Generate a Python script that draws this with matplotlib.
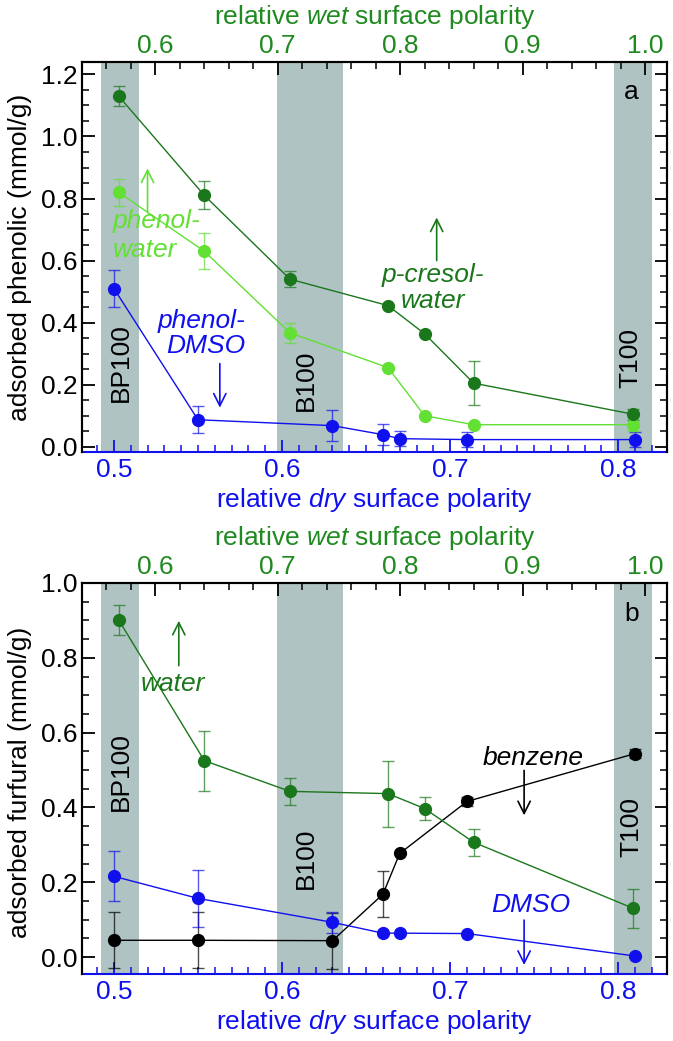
import numpy as np
import matplotlib.pyplot as plt
from matplotlib.ticker import MultipleLocator, FormatStrFormatter
from matplotlib.colors import to_rgba

plt.rcParams['font.family'] = ['Liberation Sans', 'DejaVu Sans']
plt.rcParams['mathtext.fontset'] = 'custom'
plt.rcParams['mathtext.rm'] = 'Liberation Sans'
plt.rcParams['mathtext.it'] = 'Liberation Sans:italic'
plt.rcParams['font.size'] = 19

# sample polarities (same seven sorbents in both panels)
dry_pol = [0.50, 0.55, 0.63, 0.66, 0.67, 0.71, 0.81]
wet_pol = [0.57, 0.64, 0.71, 0.79, 0.82, 0.86, 0.99]

# panel a: phenolics
pcresol_water = [1.13, 0.81, 0.54, 0.455, 0.364, 0.205, 0.105]
pcresol_water_err = [0.033, 0.045, 0.025, 0, 0, 0.07, 0.018]
phenol_water = [0.82, 0.63, 0.367, 0.255, 0.10, 0.071, 0.071]
phenol_water_err = [0.043, 0.058, 0.033, 0, 0, 0, 0.02]
phenol_dmso = [0.51, 0.087, 0.068, 0.039, 0.026, 0.023, 0.023]
phenol_dmso_err = [0.06, 0.043, 0.05, 0.035, 0.025, 0.025, 0.025]

# panel b: furfural
furfural_water = [0.901, 0.525, 0.443, 0.437, 0.397, 0.307, 0.131]
furfural_water_err = [0.04, 0.08, 0.037, 0.088, 0.03, 0.036, 0.052]
furfural_dmso = [0.216, 0.157, 0.093, 0.064, 0.064, 0.063, 0.003]
furfural_dmso_err = [0.067, 0.077, 0.028, 0, 0, 0, 0]
furfural_benzene = [0.045, 0.045, 0.044, 0.168, 0.277, 0.416, 0.544]
furfural_benzene_err = [0.075, 0.075, 0.075, 0.062, 0, 0.012, 0.012]

# shaded sorbent regions (dry polarity)
band_lo = [0.4923, 0.5969, 0.7976]
band_hi = [0.5149, 0.6360, 0.8202]
band_names = ['BP100', 'B100', 'T100']

blue = '#1010ee'
dgreen = '#1b771b'
lgreen = '#62e034'
tgreen = '#1f8a1f'
band_col = '#afc3c3'


def setup_axes(ax, ylim):
    ax.set_xlim(0.481, 0.829)
    ax.set_ylim(*ylim)
    for lo, hi in zip(band_lo, band_hi):
        ax.axvspan(lo, hi, color=band_col, lw=0, zorder=0)
    ax.xaxis.set_major_locator(MultipleLocator(0.1))
    ax.xaxis.set_minor_locator(MultipleLocator(0.01))
    ax.yaxis.set_major_locator(MultipleLocator(0.2))
    ax.yaxis.set_minor_locator(MultipleLocator(0.05))
    ax.xaxis.set_major_formatter(FormatStrFormatter('%.1f'))
    ax.yaxis.set_major_formatter(FormatStrFormatter('%.1f'))
    ax.tick_params(which='both', direction='in', top=False, right=True)
    ax.tick_params(which='major', length=9, width=1.3)
    ax.tick_params(which='minor', length=5, width=1.1)
    ax.tick_params(axis='x', which='both', colors=blue, pad=4)
    ax.tick_params(axis='y', pad=3)
    for s in ax.spines.values():
        s.set_linewidth(1.5)
    ax.spines['bottom'].set_color(blue)
    ax.set_xlabel(r'relative $\it{dry}$ surface polarity', color=blue)
    ax.xaxis.set_label_coords(0.5, -0.088)

    ax2 = ax.twiny()
    ax2.set_xlim(0.540, 1.018)
    ax2.xaxis.set_major_locator(MultipleLocator(0.1))
    ax2.xaxis.set_minor_locator(MultipleLocator(0.02))
    ax2.xaxis.set_major_formatter(FormatStrFormatter('%.1f'))
    ax2.tick_params(which='both', direction='in', color='black', labelcolor=tgreen, pad=3)
    ax2.tick_params(which='major', length=9, width=1.3)
    ax2.tick_params(which='minor', length=5, width=1.1)
    ax2.spines['bottom'].set_visible(False)
    for s in ax2.spines.values():
        s.set_linewidth(1.5)
    ax2.set_xlabel(r'relative $\it{wet}$ surface polarity', color=tgreen)
    ax2.xaxis.set_label_coords(0.5, 1.097)
    return ax2


def plot_series(ax, x, y, err, color):
    ax.errorbar(x, y, yerr=err, fmt='o-', color=color, ms=8.5, lw=1.0,
                elinewidth=1.0, capsize=4.3, capthick=1.0,
                ecolor=to_rgba(color, 0.7), zorder=3)


def arrow(ax, x, y0, y1, color):
    ax.annotate('', xy=(x, y1), xytext=(x, y0),
                arrowprops=dict(arrowstyle='->', color=color, lw=1.2,
                                shrinkA=0, shrinkB=0, mutation_scale=22))


fig = plt.figure(figsize=(6.73, 10.41), dpi=100)
ax_a = fig.add_axes([0.1218, 0.5658, 0.8693, 0.3746])
ax_b = fig.add_axes([0.1218, 0.0644, 0.8693, 0.3756])

# ---- panel a
ax_a2 = setup_axes(ax_a, (-0.017, 1.24))
ax_a.set_ylabel('adsorbed phenolic (mmol/g)')
ax_a.yaxis.set_label_coords(-0.085, 0.5)
plot_series(ax_a, dry_pol, phenol_dmso, phenol_dmso_err, blue)
plot_series(ax_a2, wet_pol, phenol_water, phenol_water_err, lgreen)
plot_series(ax_a2, wet_pol, pcresol_water, pcresol_water_err, dgreen)

for name, x, y in zip(band_names, [0.504, 0.614, 0.807], [0.271, 0.213, 0.287]):
    ax_a.text(x, y, name, rotation=90, ha='center', va='center')
ax_a.text(0.8078, 1.142, 'a', ha='center', va='center')

ax_a.text(0.4994, 0.681, 'phenol-\nwater', color=lgreen, style='italic',
          ha='left', va='center', linespacing=1.3)
arrow(ax_a, 0.520, 0.755, 0.897, lgreen)
ax_a.text(0.578, 0.365, 'phenol-\nDMSO', color=blue, style='italic',
          ha='right', va='center', multialignment='right', linespacing=1.1)
arrow(ax_a, 0.563, 0.268, 0.126, blue)
ax_a.text(0.6895, 0.513, 'p-cresol-\nwater', color=dgreen, style='italic',
          ha='center', va='center', linespacing=1.1)
arrow(ax_a, 0.692, 0.60, 0.739, dgreen)

# ---- panel b
ax_b2 = setup_axes(ax_b, (-0.045, 1.0))
ax_b.set_ylabel('adsorbed furfural (mmol/g)')
ax_b.yaxis.set_label_coords(-0.085, 0.49)
plot_series(ax_b, dry_pol, furfural_benzene, furfural_benzene_err, 'black')
plot_series(ax_b, dry_pol, furfural_dmso, furfural_dmso_err, blue)
plot_series(ax_b2, wet_pol, furfural_water, furfural_water_err, dgreen)

for name, x, y in zip(band_names, [0.504, 0.614, 0.808], [0.496, 0.264, 0.349]):
    ax_b.text(x, y, name, rotation=90, ha='center', va='center')
ax_b.text(0.8078, 0.917, 'b', ha='center', va='center')

ax_b.text(0.535, 0.731, 'water', color=dgreen, style='italic', ha='center', va='center')
arrow(ax_b, 0.5386, 0.779, 0.899, dgreen)
ax_b.text(0.7496, 0.533, 'benzene', color='black', style='italic', ha='center', va='center')
arrow(ax_b, 0.744, 0.499, 0.379, 'black')
ax_b.text(0.748, 0.139, 'DMSO', color=blue, style='italic', ha='center', va='center')
arrow(ax_b, 0.744, 0.099, -0.021, blue)

fig.savefig('out.png', dpi=100)
